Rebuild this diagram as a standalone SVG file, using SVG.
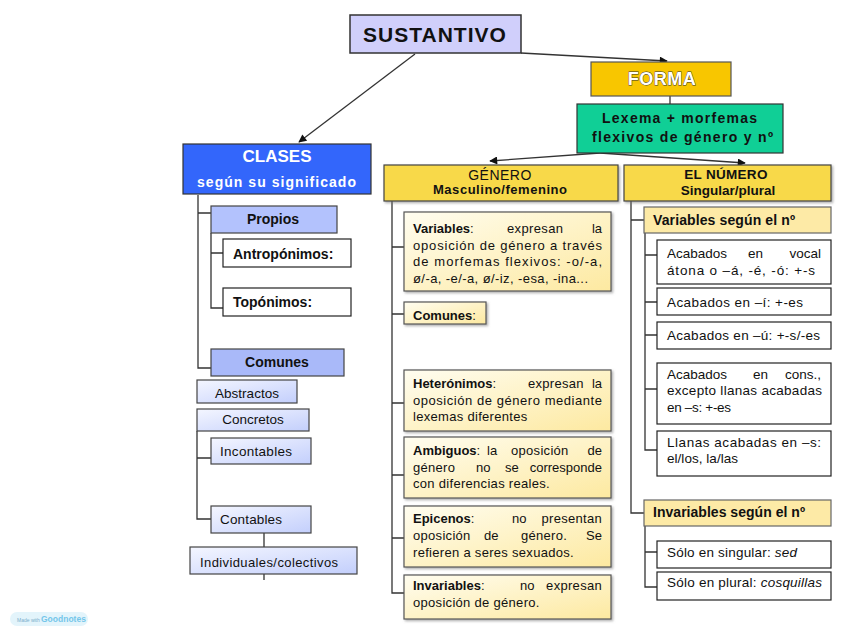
<svg xmlns="http://www.w3.org/2000/svg" width="848" height="635" viewBox="0 0 848 635">
<defs>
<style>
text{font-family:"Liberation Sans",Arial,sans-serif;fill:#111}
.b{font-weight:bold}
.t13{font-size:13px}
.t135{font-size:13.5px}
.t14{font-size:14px}
.ls{letter-spacing:0.3px}
.ln{stroke:#333;stroke-width:1.3;fill:none}
.yb{fill:url(#yg);stroke:#555;stroke-width:1.2;filter:url(#sh)}
.bb{fill:url(#bg);stroke:#444;stroke-width:1.2}
.wb{fill:#fff;stroke:#222;stroke-width:1.2}
.hd{fill:#f8d94a;stroke:#444;stroke-width:1.2;filter:url(#sh)}
</style>
<linearGradient id="yg" x1="0" y1="0" x2="1" y2="1"><stop offset="0" stop-color="#fffdf0"/><stop offset="1" stop-color="#fde9a0"/></linearGradient>
<linearGradient id="bg" x1="0" y1="0" x2="1" y2="1"><stop offset="0" stop-color="#f4f6ff"/><stop offset="1" stop-color="#c3cffc"/></linearGradient>
<filter id="sh" x="-5%" y="-10%" width="115%" height="130%"><feDropShadow dx="1.5" dy="1.5" stdDeviation="0.8" flood-color="#777" flood-opacity="0.6"/></filter>
<marker id="ar" viewBox="0 0 10 10" refX="9" refY="5" markerWidth="9" markerHeight="8" markerUnits="userSpaceOnUse" orient="auto"><path d="M0,0 L10,5 L0,10 z" fill="#111"/></marker>
</defs>
<rect width="848" height="635" fill="#fff"/>

<g id="connectors">
<line class="ln" x1="415" y1="54" x2="299" y2="142" marker-end="url(#ar)"/>
<line class="ln" x1="521" y1="53" x2="667" y2="61" marker-end="url(#ar)"/>
<line class="ln" x1="670" y1="96" x2="670" y2="104"/>
<line class="ln" x1="600" y1="153" x2="490" y2="161" marker-end="url(#ar)"/>
<line class="ln" x1="600" y1="153" x2="745" y2="163" marker-end="url(#ar)"/>
<path class="ln" d="M198,195 V368 H211 M198,213 H211"/>
<path class="ln" d="M211,233 V308 H223 M211,253 H223"/>
<path class="ln" d="M197,431 V519 H211 M197,458 H211"/>
<path class="ln" d="M264,533 V547 M264,574 V580"/>
<path class="ln" d="M392,201 V593 H404 M392,247 H404 M392,314 H404 M392,403 H404 M392,475 H404 M392,538 H404"/>
<path class="ln" d="M631,201 V513 H644 M631,220 H644"/>
<path class="ln" d="M645,233 V450 H657 M645,255 H657 M645,302 H657 M645,335 H657 M645,389 H657"/>
<path class="ln" d="M645,526 V587 H657 M645,552 H657"/>
</g>

<g id="sustantivo">
<rect x="350" y="15" width="171" height="38" fill="#d0cffb" stroke="#333" stroke-width="1.5"/>
<text x="435" y="42" text-anchor="middle" class="b" font-size="21" letter-spacing="1">SUSTANTIVO</text>
</g>

<g id="forma">
<rect x="591" y="62" width="140" height="34" fill="#f8c600" stroke="#555" stroke-width="1.2"/>
<text x="662" y="85" text-anchor="middle" class="b" font-size="18" letter-spacing="0.5" style="fill:#fff;stroke:#333;stroke-width:0.8;paint-order:stroke">FORMA</text>
</g>

<g id="lexema">
<rect x="577" y="104" width="206" height="49" fill="#10cf96" stroke="#333" stroke-width="1.2"/>
<text x="602" y="123" class="b t14" textLength="155" lengthAdjust="spacing">Lexema + morfemas</text>
<text x="592" y="142" class="b t14" textLength="181" lengthAdjust="spacing">flexivos de género y nº</text>
</g>

<g id="clases">
<rect x="183" y="144" width="188" height="50" fill="#3366fb" stroke="#333" stroke-width="1.2"/>
<text x="277" y="162" text-anchor="middle" class="b" font-size="17" style="fill:#fff">CLASES</text>
<text x="197" y="187" class="b t14" style="fill:#fff" textLength="159" lengthAdjust="spacing">según su significado</text>
</g>

<g id="propios">
<rect x="211" y="206" width="126" height="27" fill="#b3c2fd" stroke="#444" stroke-width="1.2"/>
<text x="273" y="224" text-anchor="middle" class="b t14">Propios</text>
</g>
<g id="antroponimos">
<rect class="wb" x="223" y="239" width="128" height="28"/>
<text x="233" y="259" class="b t14">Antropónimos:</text>
</g>
<g id="toponimos">
<rect class="wb" x="223" y="288" width="128" height="28"/>
<text x="233" y="307" class="b t14">Topónimos:</text>
</g>
<g id="comunes-clases">
<rect x="211" y="349" width="133" height="27" fill="#a9b9f9" stroke="#444" stroke-width="1.2"/>
<text x="277" y="367" text-anchor="middle" class="b t14">Comunes</text>
</g>
<g id="abstractos">
<rect class="bb" x="197" y="380" width="100" height="23"/>
<text x="247" y="398" text-anchor="middle" class="t135">Abstractos</text>
</g>
<g id="concretos">
<rect class="bb" x="197" y="409" width="112" height="22"/>
<text x="253" y="424" text-anchor="middle" class="t135">Concretos</text>
</g>
<g id="incontables">
<rect class="bb" x="211" y="438" width="100" height="26"/>
<text x="220" y="456" class="t135" textLength="72" lengthAdjust="spacing">Incontables</text>
</g>
<g id="contables">
<rect class="bb" x="211" y="506" width="100" height="27"/>
<text x="220" y="524" class="t135" textLength="62" lengthAdjust="spacing">Contables</text>
</g>
<g id="individuales">
<rect class="bb" x="190" y="547" width="167" height="27"/>
<text x="200" y="567" class="t13" textLength="138" lengthAdjust="spacing">Individuales/colectivos</text>
</g>

<g id="genero">
<rect class="hd" x="384" y="165" width="234" height="36"/>
<text x="500" y="180" text-anchor="middle" font-size="14" letter-spacing="0.5">GÉNERO</text>
<text x="433" y="194" class="b t13" textLength="134" lengthAdjust="spacing">Masculino/femenino</text>
</g>

<g id="variables-genero">
<rect class="yb" x="404" y="212" width="207" height="79"/>
<text x="413" y="233" class="t13"><tspan class="b">Variables</tspan>:</text>
<text x="507" y="233" class="t13" textLength="56" lengthAdjust="spacing">expresan</text>
<text x="602" y="233" class="t13" text-anchor="end">la</text>
<text x="413" y="250" class="t13" textLength="189" lengthAdjust="spacing">oposición de género a través</text>
<text x="413" y="266" class="t13" textLength="189" lengthAdjust="spacing">de morfemas flexivos: -o/-a,</text>
<text x="413" y="283" class="t13" textLength="175" lengthAdjust="spacing">ø/-a, -e/-a, ø/-iz, -esa, -ina...</text>
</g>

<g id="comunes-genero">
<rect class="yb" x="404" y="302" width="82" height="22"/>
<text x="413" y="320" class="t13"><tspan class="b">Comunes</tspan>:</text>
</g>

<g id="heteronimos">
<rect class="yb" x="404" y="370" width="207" height="61"/>
<text x="413" y="388" class="t13"><tspan class="b">Heterónimos</tspan>:</text>
<text x="528" y="388" class="t13 ls">expresan</text>
<text x="602" y="388" class="t13" text-anchor="end">la</text>
<text x="413" y="405" class="t13" textLength="189" lengthAdjust="spacing">oposición de género mediante</text>
<text x="413" y="421" class="t13 ls">lexemas diferentes</text>
</g>

<g id="ambiguos">
<rect class="yb" x="404" y="437" width="207" height="61"/>
<text x="413" y="455" class="t13"><tspan class="b">Ambiguos</tspan>:</text>
<text x="487" y="455" class="t13">la</text>
<text x="511" y="455" class="t13 ls">oposición</text>
<text x="602" y="455" class="t13" text-anchor="end">de</text>
<text x="413" y="472" class="t13 ls">género</text>
<text x="476" y="472" class="t13">no</text>
<text x="505" y="472" class="t13">se</text>
<text x="602" y="472" class="t13" text-anchor="end">corresponde</text>
<text x="413" y="488" class="t13 ls">con diferencias reales.</text>
</g>

<g id="epicenos">
<rect class="yb" x="404" y="506" width="207" height="61"/>
<text x="413" y="523" class="t13"><tspan class="b">Epicenos</tspan>:</text>
<text x="512" y="523" class="t13">no</text>
<text x="602" y="523" class="t13 ls" text-anchor="end">presentan</text>
<text x="413" y="540" class="t13 ls">oposición</text>
<text x="484" y="540" class="t13">de</text>
<text x="521" y="540" class="t13 ls">género.</text>
<text x="602" y="540" class="t13" text-anchor="end">Se</text>
<text x="413" y="557" class="t13 ls">refieren a seres sexuados.</text>
</g>

<g id="invariables-genero">
<rect class="yb" x="404" y="575" width="207" height="44"/>
<text x="413" y="590" class="t13"><tspan class="b">Invariables</tspan>:</text>
<text x="520" y="590" class="t13">no</text>
<text x="602" y="590" class="t13 ls" text-anchor="end">expresan</text>
<text x="413" y="607" class="t13 ls">oposición de género.</text>
</g>

<g id="numero">
<rect class="hd" x="624" y="165" width="207" height="36"/>
<text x="726" y="179" text-anchor="middle" class="b" font-size="13.5" letter-spacing="0.3">EL NÚMERO</text>
<text x="728" y="195" text-anchor="middle" class="b" font-size="13.5">Singular/plural</text>
</g>

<g id="variables-numero">
<rect x="644" y="207" width="187" height="26" fill="#fdeaa6" stroke="#666" stroke-width="1.2"/>
<text x="653" y="225" class="b t14" textLength="142" lengthAdjust="spacing">Variables según el nº</text>
</g>
<g id="vocal">
<rect class="wb" x="657" y="240" width="174" height="44"/>
<text x="667" y="258" class="t135">Acabados</text>
<text x="748" y="258" class="t135">en</text>
<text x="821" y="258" class="t135" text-anchor="end">vocal</text>
<text x="667" y="275" class="t135" textLength="148" lengthAdjust="spacing">átona o –á, -é, -ó: +-s</text>
</g>
<g id="acabados-i">
<rect class="wb" x="657" y="288" width="174" height="27"/>
<text x="667" y="307" class="t135" textLength="136" lengthAdjust="spacing">Acabados en –í: +-es</text>
</g>
<g id="acabados-u">
<rect class="wb" x="657" y="322" width="174" height="27"/>
<text x="667" y="340" class="t135" textLength="153" lengthAdjust="spacing">Acabados en –ú: +-s/-es</text>
</g>
<g id="consonante">
<rect class="wb" x="657" y="363" width="174" height="61"/>
<text x="667" y="379" class="t135">Acabados</text>
<text x="753" y="379" class="t135">en</text>
<text x="821" y="379" class="t135" text-anchor="end">cons.,</text>
<text x="667" y="395" class="t135" textLength="155" lengthAdjust="spacing">excepto llanas acabadas</text>
<text x="667" y="412" class="t135" textLength="64" lengthAdjust="spacing">en –s: +-es</text>
</g>
<g id="llanas">
<rect class="wb" x="657" y="431" width="174" height="45"/>
<text x="667" y="447" class="t135" textLength="154" lengthAdjust="spacing">Llanas acabadas en –s:</text>
<text x="667" y="463" class="t135" textLength="71" lengthAdjust="spacing">el/los, la/las</text>
</g>

<g id="invariables-numero">
<rect x="644" y="500" width="187" height="26" fill="#fdeaa6" stroke="#666" stroke-width="1.2"/>
<text x="653" y="517" class="b t14" textLength="152" lengthAdjust="spacing">Invariables según el nº</text>
</g>
<g id="singular">
<rect class="wb" x="657" y="541" width="174" height="27"/>
<text x="667" y="557" class="t135" textLength="130" lengthAdjust="spacing">Sólo en singular: <tspan font-style="italic">sed</tspan></text>
</g>
<g id="plural">
<rect class="wb" x="657" y="572" width="174" height="28"/>
<text x="667" y="587" class="t135" textLength="155" lengthAdjust="spacing">Sólo en plural: <tspan font-style="italic">cosquillas</tspan></text>
</g>

<g id="goodnotes">
<rect x="10" y="612" width="78" height="14" rx="7" fill="#e3f4fb"/>
<text x="17" y="622" font-size="5" style="fill:#7aaecb">Made with</text>
<text x="41" y="622" font-size="8.5" class="b" style="fill:#74c6ea">Goodnotes</text>
</g>
</svg>
